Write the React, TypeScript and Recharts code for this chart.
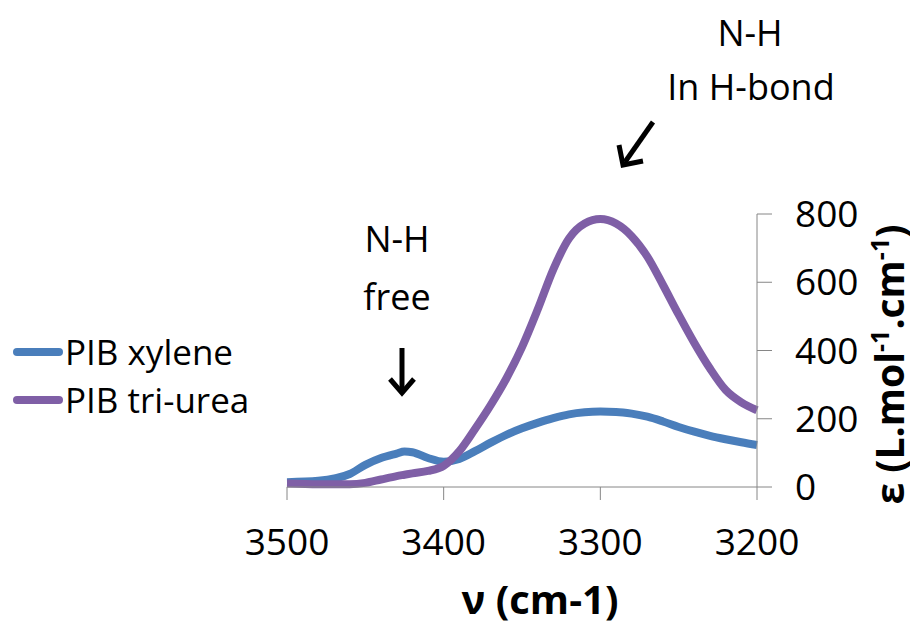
import React from "react";
import {
  LineChart,
  Line,
  XAxis,
  YAxis,
  Legend,
} from "recharts";

const FONT = "'Open Sans', sans-serif";
const BLUE = "#4A7EBB";
const PURPLE = "#7F5FA6";
const AXIS = "#868686";

// wavenumber grid (cm-1)
const wavenumbers = [
  3500, 3480, 3460, 3450, 3440, 3430, 3425, 3420, 3410, 3400, 3390, 3380, 3370,
  3360, 3350, 3340, 3330, 3320, 3310, 3300, 3290, 3280, 3270, 3260, 3250, 3240,
  3230, 3220, 3210, 3200,
];
const pibXylene = [
  14, 18, 38, 65, 85, 98, 104, 102, 85, 74, 82, 105, 130, 153, 172, 188, 202,
  213, 219, 221, 220, 215, 206, 192, 176, 162, 150, 140, 131, 123,
];
const pibTriUrea = [
  10, 8, 8, 12, 22, 32, 36, 40, 47, 62, 105, 170, 240, 318, 410, 520, 638, 728,
  772, 785, 772, 735, 675, 592, 505, 422, 347, 284, 248, 225,
];
const seriesNames = ["PIB xylene", "PIB tri-urea"];
const xTicks = [3500, 3400, 3300, 3200];
const yTicks = [0, 200, 400, 600, 800];

const data = wavenumbers.map((w, i) => ({
  w,
  xylene: pibXylene[i],
  triurea: pibTriUrea[i],
}));

const W = 910;
const H = 618;

function LegendBox({ payload }: { payload?: any[] }) {
  const items = [...(payload ?? [])].sort(
    (a, b) => seriesNames.indexOf(a.value) - seriesNames.indexOf(b.value),
  );
  return (
    <div style={{ fontFamily: FONT }}>
      {items.map((p) => (
        <div
          key={p.value}
          style={{ display: "flex", alignItems: "center", height: 48 }}
        >
          <svg width={50} height={12} style={{ marginRight: 2 }}>
            <line
              x1={4}
              y1={6}
              x2={46}
              y2={6}
              stroke={p.color}
              strokeWidth={8}
              strokeLinecap="round"
            />
          </svg>
          <span style={{ fontSize: 35, color: "#000", lineHeight: "48px" }}>
            {p.value}
          </span>
        </div>
      ))}
    </div>
  );
}

function YTitle({ viewBox }: { viewBox?: any }) {
  const cx = viewBox.x + viewBox.width - 14;
  const cy = viewBox.y + viewBox.height / 2 + 14;
  return (
    <text
      x={cx}
      y={cy}
      transform={`rotate(-90, ${cx}, ${cy})`}
      textAnchor="middle"
      fontFamily={FONT}
      fontWeight="bold"
      fontSize={39}
      fill="#000"
    >
      ε (L.mol
      <tspan fontSize={25} dy={-15}>
        -1
      </tspan>
      <tspan dy={15}>.cm</tspan>
      <tspan fontSize={25} dy={-15}>
        -1
      </tspan>
      <tspan dy={15}>)</tspan>
    </text>
  );
}

function Annotations() {
  return (
    <svg
      width={W}
      height={H}
      style={{ position: "absolute", left: 0, top: 0, pointerEvents: "none" }}
    >
      <g fontFamily={FONT} fontSize={36} fill="#000" textAnchor="middle">
        <text x={742} y={38}>N-H</text>
        <text x={743} y={92}>In H-bond</text>
        <text x={389} y={244}>N-H</text>
        <text x={389} y={302}>free</text>
      </g>
      <g stroke="#000" strokeWidth={5} fill="none" strokeLinejoin="miter">
        <line x1={645} y1={114} x2={617} y2={154} />
        <polyline points="611,137 615,157 635,153" />
        <line x1={394} y1={340} x2={394} y2={382} />
        <polyline points="382,371 394,385 406,371" />
      </g>
    </svg>
  );
}

export default function App() {
  return (
    <div style={{ position: "relative", width: W, height: H }}>
      <LineChart
        width={W}
        height={H}
        data={data}
        margin={{ top: 206, left: 279, right: 0, bottom: 0 }}
      >
        <XAxis
          dataKey="w"
          type="number"
          domain={[3200, 3500]}
          ticks={xTicks}
          reversed
          height={139}
          stroke={AXIS}
          tickSize={13}
          tickMargin={29}
          tick={{ fontSize: 37, fill: "#000", fontFamily: FONT }}
          label={{
            value: "ν (cm-1)",
            position: "insideBottom",
            offset: 12,
            dx: 18,
            fontSize: 40,
            fontWeight: "bold",
            fill: "#000",
            fontFamily: FONT,
          }}
        />
        <YAxis
          orientation="right"
          domain={[0, 800]}
          ticks={yTicks}
          width={161}
          stroke={AXIS}
          tickSize={15}
          tickMargin={23}
          tick={{ fontSize: 37, fill: "#000", fontFamily: FONT, textAnchor: "start" }}
          label={<YTitle />}
        />
        <Legend
          layout="vertical"
          align="center"
          verticalAlign="middle"
          content={<LegendBox />}
          wrapperStyle={{ left: 5, top: 320, width: 260, height: 96 }}
        />
        <Line
          type="monotone"
          dataKey="xylene"
          name={seriesNames[0]}
          stroke={BLUE}
          strokeWidth={8}
          dot={false}
          activeDot={false}
          isAnimationActive={false}
        />
        <Line
          type="monotone"
          dataKey="triurea"
          name={seriesNames[1]}
          stroke={PURPLE}
          strokeWidth={8}
          dot={false}
          activeDot={false}
          isAnimationActive={false}
        />
      </LineChart>
      <Annotations />
    </div>
  );
}
